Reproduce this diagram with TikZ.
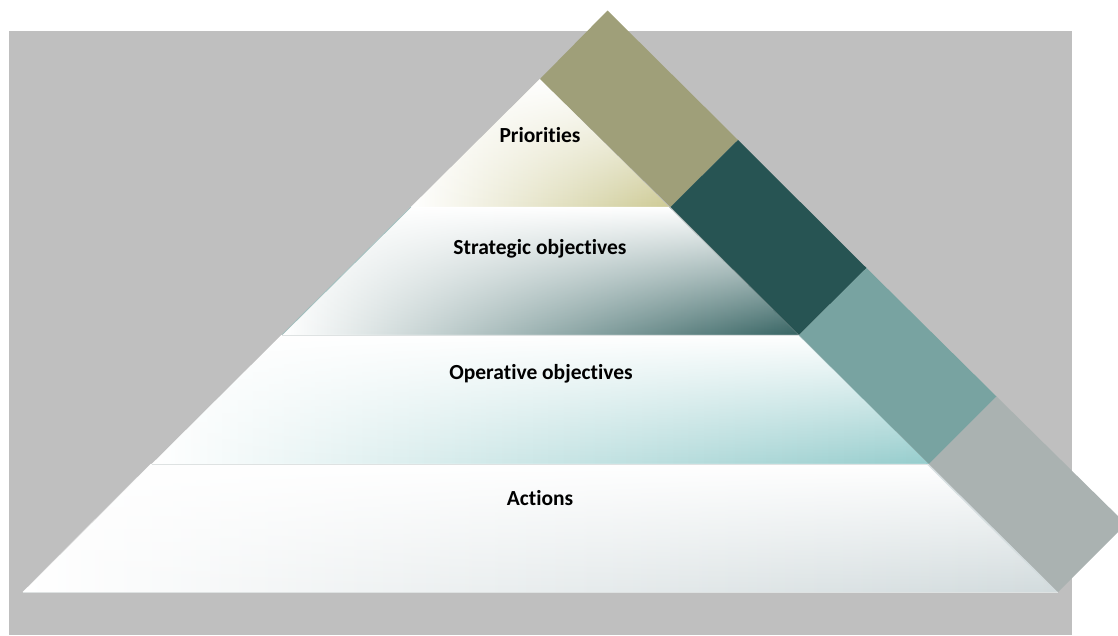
\documentclass[tikz,border=0pt]{standalone}
\usepackage{fontspec}
\setmainfont{Carlito}[Ligatures={NoCommon}]
\usetikzlibrary{fadings}
\definecolor{bggray}{RGB}{191,191,191}
\definecolor{olive}{RGB}{159,159,121}
\definecolor{darkteal}{RGB}{39,84,83}
\definecolor{midteal}{RGB}{120,163,161}
\definecolor{bandgray}{RGB}{170,178,177}
\definecolor{khaki}{RGB}{206,203,150}
\definecolor{stratc}{RGB}{55,100,99}
\definecolor{operc}{RGB}{150,205,205}
\definecolor{actc}{RGB}{210,219,221}
\definecolor{sepline}{RGB}{222,226,226}
\tikzfading[name=topwhite, top color=transparent!0, middle color=transparent!45, bottom color=transparent!100]
\tikzset{
  lbl/.style={font=\bfseries\fontsize{21.5}{25}\selectfont, text=black, inner sep=0pt},
  sep/.style={draw=sepline, line width=1pt}
}
\begin{document}
\begin{tikzpicture}[x=1pt,y=-1pt]
\useasboundingbox (0,0) rectangle (1118,635);
\clip (0,0) rectangle (1118,635);
\fill[bggray] (9,31) rectangle (1072,635);
% layer 1: Priorities
\path[left color=white, right color=khaki] (540,79) -- (669.2,207) -- (410.9,207) -- cycle;
\fill[white, path fading=topwhite] (540,79) -- (669.2,207) -- (410.9,207) -- cycle;
% layer 2: Strategic objectives
\path[left color=white, middle color=white!45!stratc, right color=stratc] (410.9,207) -- (669.2,207) -- (798.5,335) -- (281.8,335) -- cycle;
\fill[white, path fading=topwhite] (410.9,207) -- (669.2,207) -- (798.5,335) -- (281.8,335) -- cycle;
\draw[midteal!70, line width=0.8pt] (410.9,207) -- (281.8,335);
% layer 3: Operative objectives
\path[left color=white, middle color=white!45!operc, right color=operc] (281.8,335) -- (798.5,335) -- (928.7,464) -- (151.7,464) -- cycle;
\fill[white, path fading=topwhite] (281.8,335) -- (798.5,335) -- (928.7,464) -- (151.7,464) -- cycle;
% layer 4: Actions
\path[left color=white, right color=actc] (151.7,464) -- (928.7,464) -- (1058,592) -- (22.7,592) -- cycle;
\fill[white, path fading=topwhite] (151.7,464) -- (928.7,464) -- (1058,592) -- (22.7,592) -- cycle;
% separators
\draw[sep] (281.8,335) -- (798.5,335);
\draw[sep] (151.7,464) -- (928.7,464);
\draw[sep] (22.7,592) -- (1058,592);
% band
\fill[olive] (540,79) -- (607.5,10.5) -- (738,140) -- (670.5,207) -- cycle;
\fill[darkteal] (670.5,207) -- (738,140) -- (866.5,268) -- (799,335) -- cycle;
\fill[midteal] (799,335) -- (866.5,268) -- (996.5,396.5) -- (929,464) -- cycle;
\fill[bandgray] (929,464) -- (996.5,396.5) -- (1126,524) -- (1058,592) -- cycle;
% labels
\node[lbl] (prio) at (540,135) {Priorities};
\node[lbl] (strat) at (540,249) {Strategic objectives};
\node[lbl] (oper) at (541,374) {Operative objectives};
\node[lbl] (act) at (540,498) {Actions};
\end{tikzpicture}
\end{document}
